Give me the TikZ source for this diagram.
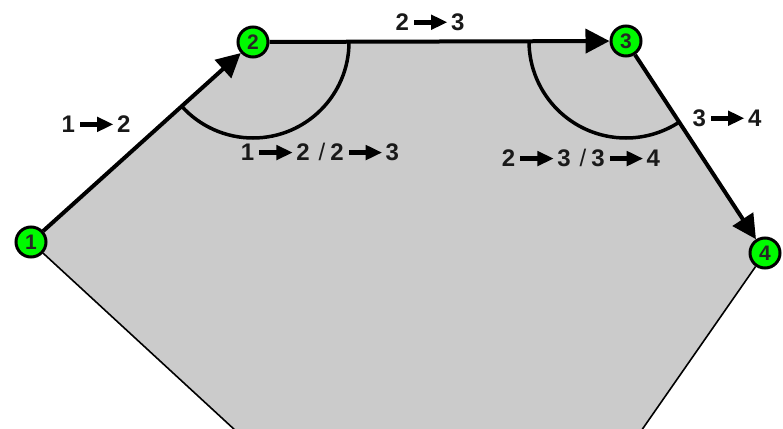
\documentclass[tikz,border=0pt]{standalone}
\usepackage{fontspec}
\setmainfont{Liberation Sans}
\usetikzlibrary{arrows.meta}
\definecolor{polyfill}{RGB}{203,203,203}
\definecolor{nodegreen}{RGB}{0,250,0}
\newcommand{\myarr}{\hspace{5pt}\tikz[baseline={(0pt,-8pt)}]{\fill[black] (0pt,-2.4pt) rectangle (19pt,2.4pt); \fill[black] (17pt,-7.8pt) -- (33pt,0pt) -- (17pt,7.8pt) -- cycle;}\hspace{4pt}}
\newcommand{\sep}{\hspace{9pt}{\mdseries /}\hspace{5pt}}
\begin{document}
\begin{tikzpicture}[x=1pt,y=1pt,
  edgearrow/.style={line width=4pt, -{Triangle[length=24pt,width=24pt]}},
  thinedge/.style={line width=1.6pt},
  anglearc/.style={line width=3.5pt},
  vtx/.style={circle, fill=nodegreen, draw=black, line width=3pt, minimum size=30pt, inner sep=0pt,
    font=\bfseries\fontsize{21}{21}\selectfont, text=black!85},
  lab/.style={inner sep=0pt, font=\bfseries\fontsize{24}{26}\selectfont, text=black!90}]
\useasboundingbox (0,0) rectangle (783,-428);
\coordinate (p1) at (31,-242);
\coordinate (p2) at (253,-42);
\coordinate (p3) at (626,-41);
\coordinate (p4) at (765,-253);
\coordinate (bl) at (300,-490);
\coordinate (br) at (600,-490);
\begin{scope}
\clip (0,0) rectangle (783,-428);
\fill[polyfill] (p1) -- (p2) -- (p3) -- (p4) -- (br) -- (bl) -- cycle;
\draw[anglearc] (349,-42) arc[start angle=0, end angle=-138, radius=96pt];
\draw[anglearc] (529,-41) arc[start angle=180, end angle=303.3, radius=97pt];
\node[vtx] (n1) at (p1) {1};
\node[vtx] (n2) at (p2) {2};
\node[vtx] (n3) at (p3) {3};
\node[vtx] (n4) at (p4) {4};
\draw[thinedge] (n1) -- (bl);
\draw[thinedge] (n4) -- (br);
\draw[edgearrow] (n1) -- (n2);
\draw[edgearrow] (n2) -- (n3);
\draw[edgearrow] (n3) -- (n4);
\end{scope}
\node[lab] (l12) at (96,-124) {1\myarr 2};
\node[lab] (l23) at (430,-22) {2\myarr 3};
\node[lab] (l34) at (727,-118) {3\myarr 4};
\node[lab] (a2) at (320,-152) {1\myarr 2\sep 2\myarr 3};
\node[lab] (a3) at (581,-158) {2\myarr 3\sep 3\myarr 4};
\end{tikzpicture}
\end{document}
